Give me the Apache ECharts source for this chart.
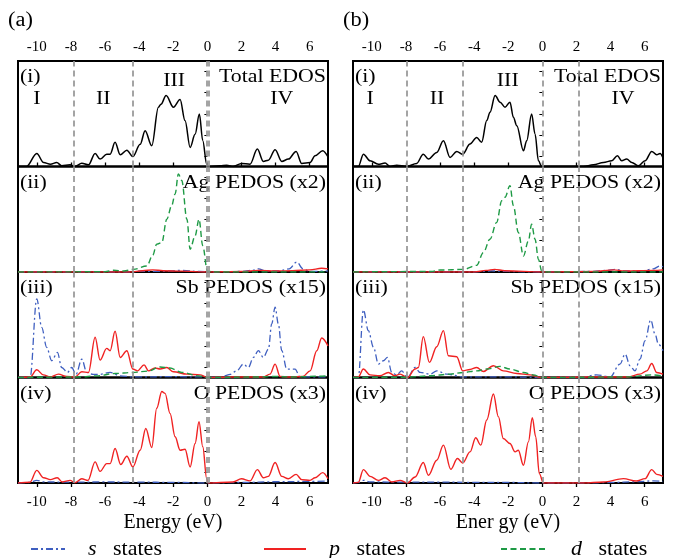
<!DOCTYPE html>
<html>
<head>
<meta charset="utf-8">
<script src="https://cdn.jsdelivr.net/npm/echarts@6/dist/echarts.min.js"></script>
<style>
  html, body { margin: 0; padding: 0; background: #fff; }
  #chart { width: 674px; height: 558px; }
</style>
</head>
<body>
<div id="chart"></div>
<script>
// Energy axis (eV) shared by all sub-plots
const energyMin = -11.1;
const energyMax = 7.07;
const energyTicks = [-10, -8, -6, -4, -2, 0, 2, 4, 6];
const dosTicks = [1, 3, 5, 7, 9];

const subplotTags = ['(i)', '(ii)', '(iii)', '(iv)'];
const subplotNames = ['Total EDOS', 'Ag PEDOS (x2)', 'Sb PEDOS (x15)', 'O PEDOS (x3)'];
const regionNames = ['I', 'II', 'III', 'IV'];
const stateNames = ['s states', 'p states', 'd states'];

// ---- (a) ----
const aBounds = [-7.83, -4.37, -0.04, 0.1];
const aRegionCenters = [-10.0, -6.1, -1.95, 4.36];

const aTotal = [[-11.1,0],[-10.6,0],[-10.0,1.24],[-9.6,0.38],[-9.2,0.22],[-8.83,0.38],[-8.54,0.07],[-8.05,0.16],[-7.76,0],[-7.36,0.31],[-6.97,0.16],[-6.58,1.24],[-6.29,0.7],[-5.9,1.17],[-5.7,1.17],[-5.41,2.29],[-5.11,1.11],[-4.72,1.55],[-4.37,0.95],[-3.94,2.1],[-3.65,3.4],[-3.26,1.97],[-2.87,5.62],[-2.72,5.9],[-2.42,6.73],[-1.99,5.62],[-1.6,6.35],[-1.31,4.35],[-1.01,1.81],[-0.72,3.05],[-0.47,4.98],[-0.27,2.45],[-0.04,0.22],[0.04,0],[0.74,0.07],[1.13,0.12],[1.52,0],[2.01,0.29],[2.5,0.22],[2.93,1.65],[3.28,0.48],[3.57,0.6],[3.97,1.59],[4.36,0.48],[4.75,0.7],[5.2,1.43],[5.53,0.29],[6.02,0.38],[6.31,1.02],[6.76,1.5],[7.07,0.9]];

const aAgS = [[-11.1,0],[-4.5,0],[-4,0.08],[-3,0.05],[-1.5,0.15],[-0.5,0.05],[0.3,0],[2.0,0.05],[2.6,0.15],[3.0,0.3],[3.4,0.1],[4.2,0.1],[4.8,0.3],[5.24,0.95],[5.6,0.3],[6.0,0.05],[7.07,0.1]];
const aAgP = [[-11.1,0],[-4.5,0],[-3.8,0.12],[-3.2,0.2],[-2.6,0.12],[-1.5,0.08],[0,0],[2.0,0.05],[3.0,0.15],[4.0,0.1],[5.0,0.12],[6.0,0.2],[6.7,0.35],[7.07,0.3]];
const aAgD = [[-11.1,0],[-6,0.02],[-5.51,0.16],[-4.9,0.1],[-4.34,0.25],[-3.55,0.57],[-3.2,1.6],[-2.97,2.64],[-2.67,2.8],[-2.38,5.0],[-2.09,6.3],[-1.89,7.4],[-1.7,9.3],[-1.5,8.67],[-1.2,5.0],[-1.01,2.16],[-0.72,3.43],[-0.49,5.0],[-0.27,2.48],[0.0,0.1],[0.3,0],[7.07,0]];

const aSbS = [[-11.1,0],[-10.39,0],[-10.0,7.46],[-9.71,4.76],[-9.42,2.86],[-9.12,1.59],[-8.79,2.38],[-8.54,0.95],[-8.2,0.48],[-7.95,0.95],[-7.7,0.3],[-7.36,1.75],[-7.07,0.48],[-6.7,0.3],[-6.3,0.3],[-5.7,0.48],[-5.1,0.15],[-4.36,0.05],[-2,0.08],[-0.3,0.05],[0,0],[0.74,0],[1.33,0.3],[1.72,0.63],[2.11,1.27],[2.4,0.95],[2.7,1.9],[2.99,2.54],[3.28,1.9],[3.58,2.7],[3.77,5.08],[3.97,6.67],[4.16,5.08],[4.36,2.54],[4.65,0.8],[5.14,0.8],[5.43,0.05],[6.2,0.05],[7.07,0.05]];
const aSbP = [[-11.1,0],[-10.39,0.05],[-10.0,0.73],[-9.61,0.25],[-9.22,0.05],[-8.73,0.32],[-8.24,0.1],[-7.76,0.05],[-7.36,0.54],[-6.97,0.48],[-6.58,3.81],[-6.29,1.65],[-5.9,2.76],[-5.7,2.54],[-5.41,4.38],[-5.11,1.9],[-4.72,2.54],[-4.37,0.8],[-4.1,0.63],[-3.71,1.2],[-3.45,0.63],[-3.07,0.9],[-2.77,0.8],[-2.38,0.95],[-1.99,0.54],[-1.2,0.32],[-0.43,0.25],[0,0],[1.5,0.05],[3.28,0.05],[3.67,0.32],[3.97,1.27],[4.26,0.1],[4.8,0.05],[5.6,0.1],[6.02,0.63],[6.41,2.54],[6.7,3.75],[7.07,3.0]];
const aSbD = [[-11.1,0],[-7.5,0.05],[-6.5,0.15],[-5.4,0.38],[-4.4,0.48],[-3.5,0.6],[-2.77,1.0],[-2.2,0.9],[-1.5,0.48],[-0.5,0.15],[0,0],[3.0,0.05],[3.8,0.1],[5,0.05],[6.5,0.12],[7.07,0.15]];

const aOS = [[-11.1,0],[-10.4,0.05],[-10.0,0.25],[-9.6,0.1],[-8,0.08],[-6,0.1],[-4,0.08],[-2,0.06],[0,0],[2,0.05],[4,0.12],[6,0.15],[7.07,0.2]];
const aOP = [[-11.1,0],[-10.4,0.07],[-10.0,1.2],[-9.6,0.5],[-9.2,0.32],[-8.8,0.5],[-8.5,0.1],[-8.05,0.25],[-7.76,0.03],[-7.36,0.4],[-7.0,0.25],[-6.58,2.0],[-6.29,1.1],[-5.9,1.84],[-5.7,1.84],[-5.41,3.27],[-5.08,1.75],[-4.72,2.54],[-4.37,1.52],[-3.94,3.11],[-3.61,5.17],[-3.26,3.37],[-2.97,7.08],[-2.67,8.67],[-2.48,8.5],[-2.19,6.6],[-1.89,4.38],[-1.6,3.11],[-1.31,3.2],[-1.01,1.52],[-0.72,3.75],[-0.49,5.81],[-0.27,3.43],[-0.04,0.4],[0.04,0],[1.5,0.1],[2.0,0.4],[2.5,0.2],[2.93,1.27],[3.28,0.5],[3.57,0.63],[3.97,1.94],[4.36,0.63],[4.75,0.4],[5.2,0.82],[5.53,0.32],[6.02,0.25],[6.31,0.5],[6.76,0.98],[7.07,0.4]];

// ---- (b) ----
const bBounds = [-7.95, -4.67, 0.02, 2.13];
const bRegionCenters = [-10.1, -6.17, -2.03, 4.73];

const bTotal = [[-11.1,0],[-10.79,0],[-10.49,1.17],[-10.1,0.54],[-9.61,0.22],[-9.22,0.32],[-8.93,0],[-8.54,0.13],[-7.95,0],[-7.37,0.29],[-6.98,1.17],[-6.68,0.7],[-6.19,1.33],[-5.8,2.44],[-5.41,0.86],[-5.02,1.43],[-4.67,1.17],[-4.24,2.13],[-3.85,2.76],[-3.56,2.29],[-3.26,4.35],[-3.07,5.14],[-2.77,6.73],[-2.48,6.1],[-2.19,5.62],[-1.9,6.1],[-1.7,4.67],[-1.5,3.87],[-1.11,1.49],[-0.92,2.44],[-0.63,4.98],[-0.43,3.08],[-0.23,0.54],[-0.04,0],[2.4,0],[2.99,0.16],[3.58,0.38],[4.06,0.54],[4.4,1.02],[4.65,0.54],[4.94,0.7],[5.24,0.38],[5.63,0.06],[6.02,0.54],[6.41,1.43],[6.7,1.11],[6.9,1.24],[7.07,0.8]];

const bAgS = [[-11.1,0],[-4,0],[-3,0.1],[-2,0.05],[0,0],[3,0.05],[3.8,0.15],[4.3,0.25],[4.8,0.1],[5.8,0.1],[6.5,0.3],[6.9,0.57],[7.07,0.5]];
const bAgP = [[-11.1,0],[-4,0],[-3.3,0.15],[-2.8,0.25],[-2.2,0.12],[0,0],[3,0.05],[4.2,0.2],[4.8,0.1],[6.5,0.15],[7.07,0.2]];
const bAgD = [[-11.1,0],[-6.5,0.05],[-6.0,0.19],[-4.63,0.25],[-3.85,0.63],[-3.46,1.84],[-3.07,3.11],[-2.68,4.7],[-2.38,6.76],[-2.19,7.08],[-1.9,8.19],[-1.7,6.29],[-1.41,3.75],[-1.11,1.52],[-0.82,2.95],[-0.63,4.54],[-0.43,3.11],[-0.23,1.2],[-0.04,0.1],[0.2,0],[7.07,0]];

const bSbS = [[-11.1,0],[-10.79,0],[-10.49,6.41],[-10.2,4.44],[-9.9,2.86],[-9.61,1.27],[-9.32,1.59],[-9.08,1.9],[-8.83,0.48],[-8.54,0.25],[-8.25,0.63],[-7.91,0],[-7.46,0.95],[-7.17,0.48],[-6.58,0.32],[-6.19,0.63],[-5.6,0.32],[-4.63,0.06],[-2,0.06],[0,0],[2.4,0.06],[3.18,0.25],[3.97,0.06],[4.55,1.27],[4.85,2.22],[5.14,1.11],[5.43,0.63],[5.72,1.75],[6.02,3.49],[6.35,5.46],[6.6,4.13],[6.8,3.17],[7.07,2.54]];
const bSbP = [[-11.1,0],[-10.79,0.06],[-10.49,0.8],[-10.1,0.25],[-9.52,0.16],[-9.03,0.48],[-8.64,0.16],[-8.34,0.32],[-7.91,0],[-7.46,0.8],[-7.27,0.95],[-6.98,3.87],[-6.62,1.43],[-6.19,2.92],[-5.8,4.44],[-5.51,2.06],[-5.02,1.97],[-4.67,0.63],[-4.24,0.76],[-3.85,0.95],[-3.46,0.57],[-2.87,1.11],[-2.29,0.63],[-1.5,0.38],[-0.72,0.25],[-0.1,0],[2.5,0.05],[5.0,0.05],[5.72,0.32],[6.12,0.63],[6.41,1.33],[6.7,0.48],[7.07,0.32]];
const bSbD = [[-11.1,0],[-8,0.03],[-6.6,0.16],[-5.41,0.32],[-4.63,0.48],[-3.85,0.63],[-3.26,0.8],[-2.48,1.05],[-1.9,0.8],[-1.11,0.48],[-0.53,0.25],[-0.04,0],[3,0.03],[5,0.06],[6.4,0.25],[7.07,0.15]];

const bOS = [[-11.1,0],[-10.79,0.05],[-10.49,0.25],[-10.1,0.1],[-8,0.08],[-6,0.08],[-4,0.06],[-2,0.05],[0,0],[2.4,0],[4,0.05],[5.5,0.12],[6.5,0.2],[7.07,0.15]];
const bOP = [[-11.1,0],[-10.79,0.06],[-10.49,1.27],[-10.1,0.63],[-9.61,0.25],[-9.22,0.5],[-8.83,0.1],[-8.34,0.25],[-7.91,0],[-7.46,0.57],[-6.98,1.94],[-6.68,0.73],[-6.19,2.16],[-5.8,3.59],[-5.37,1.3],[-4.98,2.32],[-4.67,1.9],[-4.24,2.95],[-3.91,4.29],[-3.61,3.59],[-3.26,5.97],[-2.87,8.44],[-2.58,6.29],[-2.29,4.22],[-1.9,3.75],[-1.6,2.95],[-1.41,3.11],[-1.11,1.68],[-0.82,3.9],[-0.59,6.19],[-0.39,4.38],[-0.18,0.89],[0.06,0],[2.4,0],[3.58,0.1],[4.75,0.41],[5.5,0.19],[6.02,0.41],[6.41,1.27],[6.7,0.82],[7.07,0.63]];

// ---- layout & styles ----
const FONT = 'Liberation Serif';
const panelLefts = [18, 353];
const panelWidth = 310;
const plotTop = 61;
const subHeight = 105.5;
const textStretch = 1.12;   // slightly widened serif lettering

const colorS = '#3f5fc0';
const colorP = '#f02222';
const colorD = '#1e9a45';
const styleOf = {
  total: { color: '#000', width: 1.5, type: 'solid' },
  s: { color: colorS, width: 1.3, type: [7, 3, 2, 3] },
  p: { color: colorP, width: 1.4, type: 'solid' },
  d: { color: colorD, width: 1.4, type: [6, 3.5] }
};

const panels = [
  { tag: '(a)', xName: 'Energy (eV)', bounds: aBounds, regions: aRegionCenters,
    sets: [[['total', aTotal]], [['s', aAgS], ['p', aAgP], ['d', aAgD]], [['s', aSbS], ['p', aSbP], ['d', aSbD]], [['s', aOS], ['p', aOP]]] },
  { tag: '(b)', xName: 'Ener gy (eV)', bounds: bBounds, regions: bRegionCenters,
    sets: [[['total', bTotal]], [['s', bAgS], ['p', bAgP], ['d', bAgD]], [['s', bSbS], ['p', bSbP], ['d', bSbD]], [['s', bOS], ['p', bOP]]] }
];

function label(text, x, y, align, size) {
  return { type: 'text', x: x, y: y, scaleX: textStretch,
    style: { text: text, font: size + 'px "' + FONT + '"', fill: '#000', align: align, verticalAlign: 'middle' } };
}

const grids = [], xAxes = [], yAxes = [], series = [], graphics = [];

panels.forEach((panel, p) => {
  const left = panelLefts[p];
  graphics.push(label(panel.tag, left - 10, 21, 'left', 20));

  for (let k = 0; k < 4; k++) {
    const gi = p * 4 + k;
    const top = plotTop + k * subHeight;
    grids.push({ left: left, top: top, width: panelWidth, height: subHeight,
      show: true, borderColor: '#000', borderWidth: 2, backgroundColor: 'transparent' });

    const isTop = k === 0, isBottom = k === 3;
    xAxes.push({
      gridIndex: gi, type: 'value', min: energyMin, max: energyMax,
      position: isTop ? 'top' : 'bottom',
      axisLine: { show: false },
      splitLine: { show: false },
      axisTick: { show: isTop || isBottom, inside: false, length: 4, customValues: energyTicks,
        lineStyle: { color: '#000', width: 1.3 } },
      axisLabel: { show: isTop || isBottom, customValues: energyTicks, margin: isTop ? 6 : 12,
        fontFamily: FONT, fontSize: 15, color: '#000' },
      name: isBottom ? panel.xName : '',
      nameLocation: 'middle', nameGap: 30,
      nameTextStyle: { fontFamily: FONT, fontSize: 20, color: '#000' }
    });
    yAxes.push({
      gridIndex: gi, type: 'value', min: 0, max: 10, position: 'right',
      axisLine: { show: false }, splitLine: { show: false },
      axisLabel: { show: false },
      axisTick: { show: true, inside: true, length: 3, customValues: dosTicks,
        lineStyle: { color: '#000', width: 1 } }
    });

    panel.sets[k].forEach(([kind, data], j) => {
      const st = styleOf[kind];
      const s = {
        type: 'line', name: kind === 'total' ? 'Total' : kind + ' states',
        xAxisIndex: gi, yAxisIndex: gi, data: data,
        symbol: 'none', showSymbol: false, smooth: 0.35, smoothMonotone: 'x',
        color: st.color, lineStyle: { color: st.color, width: st.width, type: st.type },
        animation: false, silent: true, z: kind === 'd' ? 3 : 2
      };
      if (j === 0) {
        s.markLine = {
          silent: true, symbol: ['none', 'none'], animation: false,
          label: { show: false },
          lineStyle: { color: '#959595', width: 1.7, type: [6, 4] },
          data: panel.bounds.map(v => ({ xAxis: v }))
        };
      }
      series.push(s);
    });

    graphics.push(label(subplotTags[k], left + 2, top + 16, 'left', 19.5));
    graphics.push(label(subplotNames[k], left + panelWidth - 2, top + 16, 'right', 19.5));
  }
});

const legendBase = {
  orient: 'horizontal', top: 538, itemHeight: 12, padding: 0, selectedMode: false,
  itemStyle: { opacity: 0 },
  textStyle: { fontFamily: FONT, fontSize: 22, color: '#000', padding: [0, 0, 0, 18],
    rich: { i: { fontFamily: FONT, fontSize: 22, fontStyle: 'italic', color: '#000' } } },
  formatter: name => '{i|' + name.charAt(0) + '}   ' + name.slice(2)
};
const legendLefts = [30, 263, 500];
const legendWidths = [34, 42, 47];

const chart = echarts.init(document.getElementById('chart'), null, { renderer: 'canvas' });
chart.setOption({
  backgroundColor: '#fff',
  animation: false,
  grid: grids,
  xAxis: xAxes,
  yAxis: yAxes,
  legend: stateNames.map((n, i) => Object.assign({}, legendBase, { data: [n], left: legendLefts[i], itemWidth: legendWidths[i] })),
  series: series
});

// Region labels I-IV placed at their energies inside the total-DOS panels
panels.forEach((panel, p) => {
  panel.regions.forEach((e, r) => {
    const yVal = r === 2 ? 8.1 : 6.4;
    const pt = chart.convertToPixel({ gridIndex: p * 4 }, [e, yVal]);
    graphics.push(label(regionNames[r], pt[0], pt[1], 'center', 19.5));
  });
});
chart.setOption({ graphic: graphics });
</script>
</body>
</html>
